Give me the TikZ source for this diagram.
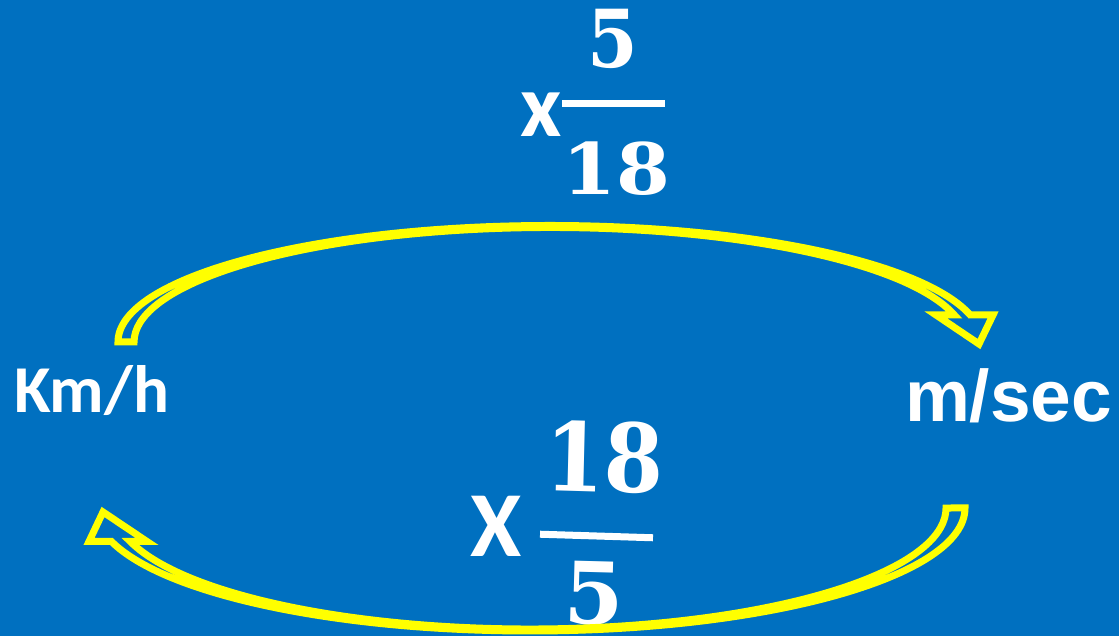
\documentclass[tikz,border=0pt]{standalone}
\usepackage{fontspec}
\newfontfamily\calfont{Carlito}
\newfontfamily\arialfont{Liberation Sans}
\newfontfamily\digitfont{DejaVu Serif}
\definecolor{bg}{RGB}{0,112,192}
\definecolor{arrowyellow}{RGB}{255,255,0}
\begin{document}
\begin{tikzpicture}[x=1pt,y=1pt,
  blockarrow/.style={draw=arrowyellow, fill=bg, line width=7pt, line join=miter, miter limit=5},
  lbl/.style={text=white, inner sep=0pt, outer sep=0pt},
  fracbar/.style={fill=white, draw=none, inner sep=0pt, outer sep=0pt, minimum height=7pt}]
\fill[bg] (0,0) rectangle (1119,636);
\useasboundingbox (0,0) rectangle (1119,636);

% unit labels
\node[lbl, font=\calfont\bfseries\fontsize{67}{67}\selectfont, anchor=base west] (kmh) at (14,223) {Km/h};
\node[lbl, font=\arialfont\bfseries\fontsize{73}{73}\selectfont, anchor=base east] (msec) at (1112,214) {m/sec};

% top factor
\node[lbl, font=\calfont\bfseries\fontsize{90}{90}\selectfont, anchor=base] (x1) at (541.5,499) {x};
\node[lbl, font=\digitfont\bfseries\fontsize{80}{80}\selectfont, anchor=base, xscale=0.91] (n1) at (613,568) {5};
\node[fracbar, minimum width=103pt] (bar1) at (613.5,532) {};
\node[lbl, font=\digitfont\bfseries\fontsize{71}{71}\selectfont, anchor=base, xscale=1.09] (d1) at (616.5,441) {18};

% bottom factor
\node[lbl, font=\calfont\bfseries\fontsize{93}{93}\selectfont, anchor=base] (x2) at (496,79) {X};
\node[lbl, font=\digitfont\bfseries\fontsize{95}{95}\selectfont, anchor=base, xscale=0.9, rotate=-1.5] (n2) at (603.5,144) {18};
\node[fracbar, minimum width=113pt, rotate=-1.8] (bar2) at (596.5,100) {};
\node[lbl, font=\digitfont\bfseries\fontsize{86}{86}\selectfont, anchor=base, rotate=-1.5] (d2) at (593,12) {5};

% top arrow: Km/h -> m/sec
\draw[blockarrow] (118,294)
  arc[start angle=180, end angle=13.4, x radius=432, y radius=116.5]
  -- (993,321) -- (979,292) -- (936,321) -- (954.3,321)
  arc[start angle=13.64, end angle=180, x radius=416, y radius=114.5]
  -- cycle;

% bottom arrow: m/sec -> Km/h
\draw[blockarrow] (965,128)
  arc[start angle=0, end angle=-164.2, x radius=435, y radius=123]
  -- (89,94.5) -- (103,124) -- (147,94.5) -- (130.3,94.5)
  arc[start angle=-163.93, end angle=0, x radius=416, y radius=121]
  -- cycle;
\end{tikzpicture}
\end{document}
